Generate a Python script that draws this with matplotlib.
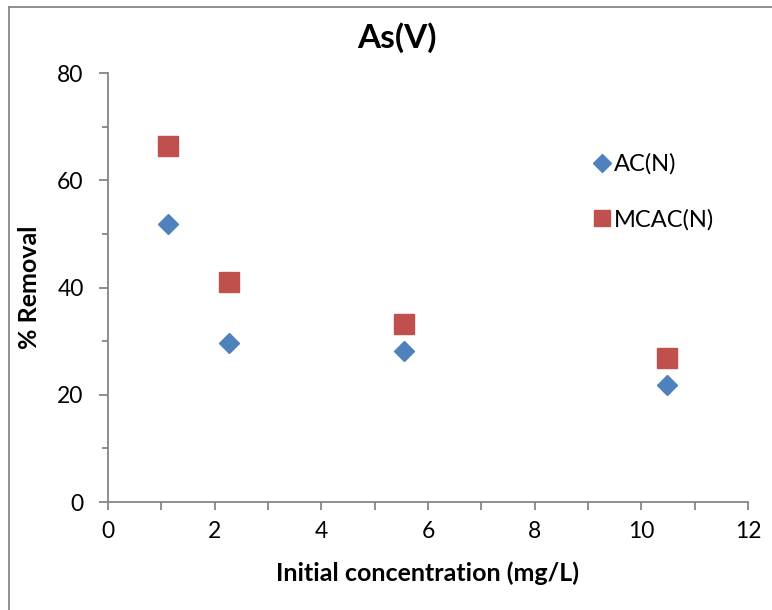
import matplotlib
matplotlib.use("Agg")
import matplotlib.pyplot as plt
from matplotlib.lines import Line2D
from matplotlib.ticker import MultipleLocator

plt.rcParams['font.family'] = ['Lato', 'DejaVu Sans']

# Initial arsenic concentration (mg/L) and % removal for each adsorbent
conc = [1.12, 2.27, 5.55, 10.48]
ac_removal = [51.8, 29.6, 28.2, 21.8]
mcac_removal = [66.4, 41.0, 33.3, 26.9]

series_labels = ["AC(N)", "MCAC(N)"]
x_ticks = [0, 2, 4, 6, 8, 10, 12]
y_ticks = [0, 20, 40, 60, 80]

blue = "#4F81BD"
red = "#C0504D"
axis_gray = "#868686"

fig = plt.figure(figsize=(7.72, 6.10), dpi=100)
ax = fig.add_axes([0.1399, 0.177, 0.8290, 0.703])

ax.plot(conc, ac_removal, linestyle="none", marker="D", markersize=10.2,
        color=blue, markeredgecolor=blue, label=series_labels[0])
ax.plot(conc, mcac_removal, linestyle="none", marker="s", markersize=14.0,
        color=red, markeredgecolor=red, label=series_labels[1])

ax.set_xlim(0, 12)
ax.set_ylim(0, 80)
ax.set_xticks(x_ticks)
ax.set_yticks(y_ticks)
ax.xaxis.set_minor_locator(MultipleLocator(1))
ax.yaxis.set_minor_locator(MultipleLocator(10))

for side in ("top", "right"):
    ax.spines[side].set_visible(False)
for side in ("left", "bottom"):
    ax.spines[side].set_color(axis_gray)
    ax.spines[side].set_linewidth(1.3)

ax.tick_params(axis="both", which="both", direction="out", color=axis_gray,
               width=1.3, labelsize=16.5, labelcolor="black")
ax.tick_params(axis="y", which="major", length=6.5, pad=11)
ax.tick_params(axis="y", which="minor", length=4.3)
ax.tick_params(axis="x", which="major", length=5.5, pad=8)
ax.tick_params(axis="x", which="minor", length=5.5)

fig.text(397 / 772, 1 - 38 / 610, "As(V)", fontsize=24, fontweight="bold",
         ha="center", va="center")
ax.set_xlabel("Initial concentration (mg/L)", fontsize=18, fontweight="bold", labelpad=14)
ax.set_ylabel("% Removal", fontsize=18, fontweight="bold", labelpad=12)

leg = ax.legend(loc="upper left", bbox_to_anchor=(0.752, 0.764),
                bbox_transform=fig.transFigure, frameon=False, fontsize=17,
                handletextpad=0.0, labelspacing=1.45, handlelength=1.0,
                borderaxespad=0, markerscale=0.85)

# Chart-area border along the top and left edges
fig.add_artist(Line2D([9 / 772, 1], [1 - 6.5 / 610, 1 - 6.5 / 610],
                      transform=fig.transFigure, color=axis_gray, linewidth=1.3))
fig.add_artist(Line2D([9 / 772, 9 / 772], [0, 1 - 6.5 / 610],
                      transform=fig.transFigure, color=axis_gray, linewidth=1.3))

fig.savefig("out.png", dpi=100)
